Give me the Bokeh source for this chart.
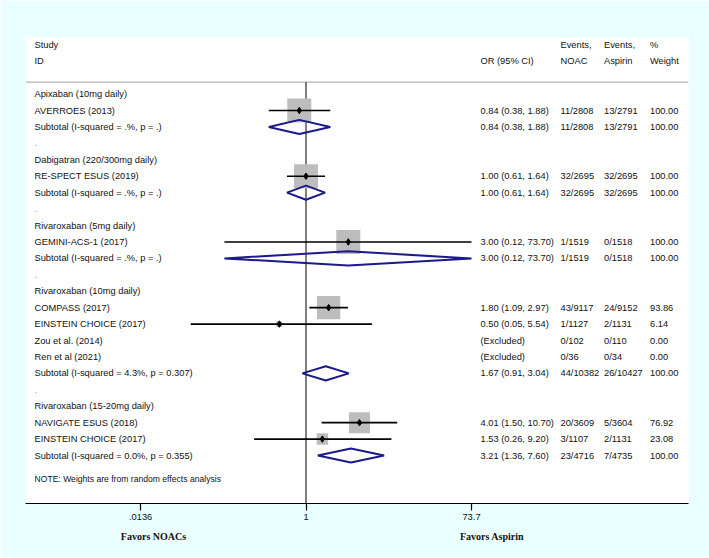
import numpy as np
from bokeh.plotting import figure
from bokeh.models import (Range1d, FixedTicker, CustomJSTickFormatter, ColumnDataSource,
                          LogAxis)
from bokeh.embed import file_html
from bokeh.resources import INLINE
from bokeh.core.properties import value

# ---------------- data ----------------
row_labels = [
    "Apixaban (10mg daily)", "AVERROES (2013)", "Subtotal  (I-squared = .%, p = .)", ".",
    "Dabigatran (220/300mg daily)", "RE-SPECT ESUS (2019)", "Subtotal  (I-squared = .%, p = .)", ".",
    "Rivaroxaban (5mg daily)", "GEMINI-ACS-1 (2017)", "Subtotal  (I-squared = .%, p = .)", ".",
    "Rivaroxaban (10mg daily)", "COMPASS (2017)", "EINSTEIN CHOICE (2017)", "Zou et al. (2014)",
    "Ren et al (2021)", "Subtotal  (I-squared = 4.3%, p = 0.307)", ".",
    "Rivaroxaban (15-20mg daily)", "NAVIGATE ESUS (2018)", "EINSTEIN CHOICE (2017)",
    "Subtotal  (I-squared = 0.0%, p = 0.355)", ".",
]
or_ci_text = [
    "", "0.84 (0.38, 1.88)", "0.84 (0.38, 1.88)", "",
    "", "1.00 (0.61, 1.64)", "1.00 (0.61, 1.64)", "",
    "", "3.00 (0.12, 73.70)", "3.00 (0.12, 73.70)", "",
    "", "1.80 (1.09, 2.97)", "0.50 (0.05, 5.54)", "(Excluded)", "(Excluded)", "1.67 (0.91, 3.04)", "",
    "", "4.01 (1.50, 10.70)", "1.53 (0.26, 9.20)", "3.21 (1.36, 7.60)", "",
]
events_noac = [
    "", "11/2808", "11/2808", "",
    "", "32/2695", "32/2695", "",
    "", "1/1519", "1/1519", "",
    "", "43/9117", "1/1127", "0/102", "0/36", "44/10382", "",
    "", "20/3609", "3/1107", "23/4716", "",
]
events_aspirin = [
    "", "13/2791", "13/2791", "",
    "", "32/2695", "32/2695", "",
    "", "0/1518", "0/1518", "",
    "", "24/9152", "2/1131", "0/110", "0/34", "26/10427", "",
    "", "5/3604", "2/1131", "7/4735", "",
]
weight_text = [
    "", "100.00", "100.00", "",
    "", "100.00", "100.00", "",
    "", "100.00", "100.00", "",
    "", "93.86", "6.14", "0.00", "0.00", "100.00", "",
    "", "76.92", "23.08", "100.00", "",
]

study_rows = [1, 5, 9, 13, 14, 20, 21]
study_or = [0.84, 1.00, 3.00, 1.80, 0.50, 4.01, 1.53]
study_lo = [0.38, 0.61, 0.12, 1.09, 0.05, 1.50, 0.26]
study_hi = [1.88, 1.64, 73.70, 2.97, 5.54, 10.70, 9.20]
study_wt = [100.00, 100.00, 100.00, 93.86, 6.14, 76.92, 23.08]

subtotal_rows = [2, 6, 10, 17, 22]
sub_or = [0.84, 1.00, 3.00, 1.67, 3.21]
sub_lo = [0.38, 0.61, 0.12, 0.91, 1.36]
sub_hi = [1.88, 1.64, 73.70, 3.04, 7.60]

header_top = ["Study", "", "Events,", "Events,", "%"]
header_bot = ["ID", "OR (95% CI)", "NOAC", "Aspirin", "Weight"]
note_text = "NOTE: Weights are from random effects analysis"

tick_vals = [0.0136, 1, 73.7]
tick_labels = [".0136", "1", "73.7"]
favors_labels = ["Favors NOACs", "Favors Aspirin"]

# ---------------- layout helpers ----------------
W, H = 709, 558
FRAME_L, FRAME_R = 25, 688          # page px
FRAME_T, FRAME_B = 37, 503
LN_LO, LN_HI = -7.288, 9.938        # ln(OR) at frame edges
ROW_TOP, ROW_BOT = -3.445, 24.92    # row index at frame top / bottom

def px2x(page_px):
    return float(np.exp(LN_LO + (page_px - FRAME_L) / (FRAME_R - FRAME_L) * (LN_HI - LN_LO)))

COL_LEFT = px2x(34)
COL_OR = px2x(480)
COL_NOAC = px2x(560)
COL_ASP = px2x(603.5)
COL_WT = px2x(649.5)
FAVORS_X = [px2x(153), px2x(491.5)]

FONT = "Liberation Sans"
FS = "9.3px"
TXT = "#111111"

p = figure(width=W, height=H, x_axis_type="log",
           x_range=Range1d(float(np.exp(LN_LO)), float(np.exp(LN_HI))),
           y_range=Range1d(-ROW_BOT, -ROW_TOP),
           output_backend="svg", toolbar_location=None, y_axis_location=None,
           min_border_left=FRAME_L, min_border_right=W - FRAME_R,
           min_border_top=FRAME_T, min_border_bottom=H - FRAME_B)
p.background_fill_color = "white"
p.border_fill_color = "#EAFFFF"
p.outline_line_color = None
p.grid.visible = False

# header separator and reference line
p.segment(x0=[np.exp(LN_LO)], x1=[np.exp(LN_HI)], y0=[0.724], y1=[0.724],
          line_color="#b4b4b4", line_width=1.2)
p.segment(x0=[1], x1=[1], y0=[0.724], y1=[-ROW_BOT], line_color="black", line_width=1)

# headers
hx = [COL_LEFT, COL_OR, COL_NOAC, COL_ASP, COL_WT]
p.text(x=hx, y=[3] * 5, text=header_top, text_font=value(FONT), text_font_size=FS,
       text_baseline="middle", text_align="left", text_color=TXT)
p.text(x=hx, y=[2] * 5, text=header_bot, text_font=value(FONT), text_font_size=FS,
       text_baseline="middle", text_align="left", text_color=TXT)

# row texts
ys = [-i for i in range(len(row_labels))]
dot = [lab == "." for lab in row_labels]
lab_src = ColumnDataSource(dict(
    x=[COL_LEFT] * len(row_labels), y=ys, text=row_labels,
    color=["#9a9a9a" if d else TXT for d in dot]))
p.text(x="x", y="y", text="text", text_color="color", source=lab_src,
       text_font=value(FONT), text_font_size=FS, text_baseline="middle")
for col, arr in [(COL_OR, or_ci_text), (COL_NOAC, events_noac),
                 (COL_ASP, events_aspirin), (COL_WT, weight_text)]:
    p.text(x=[col] * len(arr), y=ys, text=arr, text_font=value(FONT), text_font_size=FS,
           text_baseline="middle", text_color=TXT)

p.text(x=[COL_LEFT], y=[-23.4], text=[note_text], text_font=value(FONT),
       text_font_size="8.6px", text_baseline="middle", text_color=TXT)

# study boxes, CIs, points
sy = [-r for r in study_rows]
box = [24.0 * np.sqrt(w / 100.0) for w in study_wt]
p.scatter(x=study_or, y=sy, size=box, marker="square", fill_color="#bdbdbd",
          line_color=None)
p.segment(x0=study_lo, x1=study_hi, y0=sy, y1=sy, line_color="black", line_width=1.6)
p.scatter(x=study_or, y=sy, size=6.5, marker="diamond", fill_color="black",
          line_color="black")

# subtotal diamonds
h = 0.43
dxs = [[lo, e, hi, e] for lo, e, hi in zip(sub_lo, sub_or, sub_hi)]
dys = [[-r, -r + h, -r, -r - h] for r in subtotal_rows]
p.patches(xs=dxs, ys=dys, fill_color=None, line_color="#1a1a8a", line_width=2)

JS_PICK = """
let b = 0;
for (let i = 0; i < v.length; i++) {
  if (Math.abs(Math.log(v[i]) - Math.log(tick)) < Math.abs(Math.log(v[b]) - Math.log(tick))) b = i;
}
return l[b];
"""

# x axis
ax = p.xaxis[0]
ax.ticker = FixedTicker(ticks=tick_vals)
ax.formatter = CustomJSTickFormatter(args=dict(v=tick_vals, l=tick_labels), code=JS_PICK)
ax.axis_line_color = "black"
ax.axis_line_width = 1.2
ax.major_tick_line_color = "black"
ax.major_tick_line_width = 1.2
ax.major_tick_out = 7
ax.major_tick_in = 0
ax.minor_tick_line_color = None
ax.major_label_text_font = FONT
ax.major_label_text_font_size = FS
ax.major_label_text_color = TXT
ax.major_label_standoff = 3

# "Favors" captions as a second, line-less axis below
fav = LogAxis(ticker=FixedTicker(ticks=FAVORS_X),
              formatter=CustomJSTickFormatter(args=dict(v=FAVORS_X, l=favors_labels),
                                              code=JS_PICK))
fav.axis_line_color = None
fav.major_tick_line_color = None
fav.minor_tick_line_color = None
fav.major_tick_out = 0
fav.major_tick_in = 0
fav.major_label_standoff = 8
fav.major_label_text_font = "Liberation Serif"
fav.major_label_text_font_style = "bold"
fav.major_label_text_font_size = "10px"
fav.major_label_text_color = TXT
p.add_layout(fav, "below")

html = file_html(p, INLINE)
html = html.replace("<body>", '<body style="background-color:#EAFFFF;">', 1)
open("out.html", "w").write(html)
